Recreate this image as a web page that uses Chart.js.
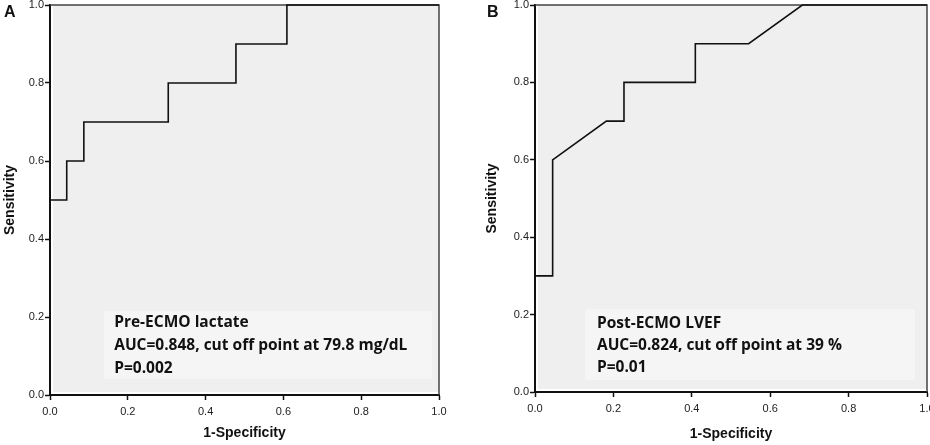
<!DOCTYPE html>
<html>
<head>
<meta charset="utf-8">
<script src="https://cdn.jsdelivr.net/npm/chart.js@4.4.1/dist/chart.umd.min.js"></script>
<style>
  html, body { margin: 0; padding: 0; background: #fff; overflow: hidden; width: 930px; height: 445px; }
  canvas { position: absolute; top: 0; }
  #rocA { left: 0; }
  #rocB { left: 465px; }
</style>
</head>
<body>
<canvas id="rocA" width="465" height="445"></canvas>
<canvas id="rocB" width="480" height="445"></canvas>
<script>
// ROC points
const fprA = [0, 0, 0.043, 0.043, 0.087, 0.087, 0.304, 0.304, 0.478, 0.478, 0.609, 0.609, 1];
const tprA = [0, 0.5, 0.5, 0.6, 0.6, 0.7, 0.7, 0.8, 0.8, 0.9, 0.9, 1, 1];
const fprB = [0, 0, 0.045, 0.045, 0.182, 0.227, 0.227, 0.409, 0.409, 0.545, 0.682, 1];
const tprB = [0, 0.3, 0.3, 0.6, 0.7, 0.7, 0.8, 0.8, 0.9, 0.9, 1, 1];
const tickLabels = ['0.0', '0.2', '0.4', '0.6', '0.8', '1.0'];
const notesA = ['Pre-ECMO lactate', 'AUC=0.848, cut off point at 79.8 mg/dL', 'P=0.002'];
const notesB = ['Post-ECMO LVEF', 'AUC=0.824, cut off point at 39 %', 'P=0.01'];

const tickFont = {family: 'Liberation Sans, Arial, sans-serif', size: 11};
const titleFont = {family: 'Liberation Sans, Arial, sans-serif', size: 14, weight: 'bold'};

// grey plot background, thin top/right frame, note box and panel letter
const rocPanel = {
  id: 'rocPanel',
  beforeDraw(chart, args, opts) {
    const {ctx, chartArea: a, scales: {x, y}} = chart;
    ctx.save();
    ctx.fillStyle = '#efefef';
    ctx.fillRect(a.left + 3, a.top, a.right - a.left - 3, a.bottom - a.top - 3);
    const bx0 = x.getPixelForValue(opts.box[0]), bx1 = x.getPixelForValue(opts.box[1]);
    const by0 = y.getPixelForValue(opts.box[2]), by1 = y.getPixelForValue(opts.box[3]);
    ctx.fillStyle = '#f5f5f5';
    ctx.fillRect(bx0, by0, bx1 - bx0, by1 - by0);
    ctx.restore();
  },
  beforeDatasetsDraw(chart) {
    const {ctx, chartArea: a} = chart;
    ctx.save();
    ctx.strokeStyle = '#444';
    ctx.lineWidth = 1.5;
    ctx.beginPath();
    ctx.moveTo(a.left, a.top);
    ctx.lineTo(a.right, a.top);
    ctx.lineTo(a.right, a.bottom);
    ctx.stroke();
    ctx.restore();
  },
  afterDraw(chart, args, opts) {
    const {ctx, scales: {x, y}} = chart;
    ctx.save();
    ctx.fillStyle = '#111';
    ctx.textBaseline = 'middle';
    ctx.font = 'bold 15.5px "Open Sans", Lato, sans-serif';
    const tx = x.getPixelForValue(opts.textX);
    opts.notes.forEach((line, i) => {
      ctx.fillText(line, tx, y.getPixelForValue(opts.lineY[i]));
    });
    ctx.font = 'bold 16px "Liberation Sans", Arial, sans-serif';
    ctx.textBaseline = 'alphabetic';
    ctx.fillText(opts.letter, opts.letterX, 17);
    ctx.restore();
  }
};

function makeRoc(id, fpr, tpr, panel, pad, yWidth, xHeight) {
  return new Chart(document.getElementById(id), {
    type: 'scatter',
    data: {
      datasets: [{
        data: fpr.map((v, i) => ({x: v, y: tpr[i]})),
        showLine: true,
        borderColor: '#111',
        borderWidth: 1.6,
        pointRadius: 0,
        tension: 0,
        clip: false
      }]
    },
    options: {
      responsive: false,
      animation: false,
      layout: {padding: pad},
      plugins: {
        legend: {display: false},
        tooltip: {enabled: false},
        rocPanel: panel
      },
      scales: {
        x: {
          type: 'linear',
          min: 0,
          max: 1,
          afterFit: s => { s.height = xHeight; s.paddingLeft = 0; s.paddingRight = 0; },
          border: {display: true, color: '#111', width: 2},
          grid: {drawOnChartArea: false, drawTicks: true, tickLength: 5, tickWidth: 1.5, tickColor: '#111'},
          ticks: {stepSize: 0.2, padding: 5, color: '#222', font: tickFont, maxRotation: 0,
                  callback: (v, i) => tickLabels[i]},
          title: {display: true, text: '1-Specificity', color: '#111', font: titleFont, padding: 0}
        },
        y: {
          type: 'linear',
          min: 0,
          max: 1,
          afterFit: s => { s.width = yWidth; s.paddingTop = 0; s.paddingBottom = 0; },
          border: {display: true, color: '#111', width: 2},
          grid: {drawOnChartArea: false, drawTicks: true, tickLength: 5, tickWidth: 1.5, tickColor: '#111'},
          ticks: {stepSize: 0.2, padding: 1, color: '#222', font: tickFont,
                  callback: (v, i) => tickLabels[i]},
          title: {display: true, text: 'Sensitivity', color: '#111', font: titleFont, padding: {top: 2, bottom: 0}}
        }
      }
    },
    plugins: [rocPanel]
  });
}

makeRoc('rocA', fprA, tprA,
  {letter: 'A', letterX: 4, notes: notesA, box: [0.139, 0.982, 0.215, 0.041],
   textX: 0.165, lineY: [0.185, 0.126, 0.069]},
  {left: 0, top: 5, right: 26, bottom: 3}, 50, 47);

makeRoc('rocB', fprB, tprB,
  {letter: 'B', letterX: 22, notes: notesB, box: [0.128, 0.969, 0.214, 0.031],
   textX: 0.158, lineY: [0.178, 0.119, 0.062]},
  {left: 17, top: 5, right: 18, bottom: 2}, 53, 51);
</script>
</body>
</html>
